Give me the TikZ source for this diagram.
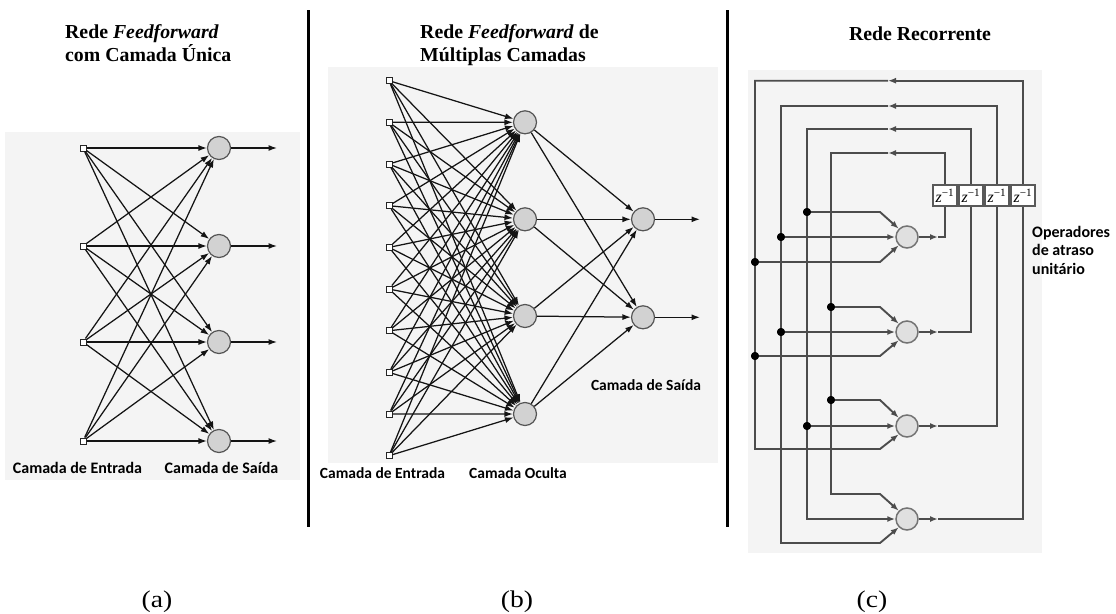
\documentclass[tikz,border=0pt]{standalone}
\usepackage{graphicx}
\usepackage{fontspec}
\setmainfont{Liberation Serif}
\newfontfamily\labelsans{Carlito}
\usetikzlibrary{arrows.meta}
\definecolor{panelbg}{HTML}{F4F4F4}
\definecolor{cellfill}{HTML}{D2D2D2}
\definecolor{cellline}{HTML}{555555}
\definecolor{wiregray}{HTML}{4C4C4C}
\newcommand\delayop{\textit{z}\textsuperscript{−1}}
\newcommand\widecap[1]{\scalebox{1.15}[1]{#1}}
\begin{document}
\begin{tikzpicture}[x=1pt,y=-1pt,
  inp/.style={draw=black!85, fill=white, rectangle, minimum size=6pt, inner sep=0pt, line width=1pt},
  neu/.style={circle, draw=cellline, fill=cellfill, minimum size=23pt, inner sep=0pt, line width=1.2pt},
  rneu/.style={circle, draw=black!55, fill=black!12, minimum size=22pt, inner sep=0pt, line width=1.5pt},
  syn/.style={draw=black!92, line width=1.25pt, -{Latex[length=8.5pt,width=6pt]}},
  wire/.style={draw=wiregray, line width=1.9pt},
  wtip/.style={-{Latex[length=8pt,width=6pt]}},
  jdot/.style={circle, fill=black, minimum size=8pt, inner sep=0pt},
  zbox/.style={draw=black!65, fill=white, line width=1.3pt, minimum width=24pt, minimum height=21pt, inner sep=0pt, font=\fontsize{16}{16}\selectfont},
  ttl/.style={anchor=base west, inner sep=0pt, font=\bfseries\fontsize{19.8}{22}\selectfont},
  lab/.style={anchor=base, inner sep=0pt, font=\labelsans\bfseries\fontsize{15.5}{18}\selectfont},
  subcap/.style={anchor=base, inner sep=0pt, font=\fontsize{24}{24}\selectfont},
  bar/.style={line width=3pt, black}
]
\useasboundingbox (0,0) rectangle (1116,613);
\fill[white] (0,0) rectangle (1116,613);

% panel backgrounds
\fill[panelbg] (5,132) rectangle (300,480);
\fill[panelbg] (328,67) rectangle (718,463);
\fill[panelbg] (748,70) rectangle (1042,553);

% separators
\coordinate (s1t) at (308,10); \coordinate (s1b) at (308,527);
\coordinate (s2t) at (727,10); \coordinate (s2b) at (727,527);
\draw[bar] (s1t) -- (s1b);
\draw[bar] (s2t) -- (s2b);

% titles
\node[ttl] (ta1) at (65,38) {Rede \textit{Feedforward}};
\node[ttl] (ta2) at (65,61) {com Camada Única};
\node[ttl] (tb1) at (420,38) {Rede \textit{Feedforward} de};
\node[ttl] (tb2) at (420,61) {Múltiplas Camadas};
\node[ttl, anchor=base] (tc1) at (920,40.5) {Rede Recorrente};

% ---------- (a) single-layer feedforward ----------
\foreach \i/\y in {1/148,2/246,3/342,4/441} {
  \node[inp] (a-in\i) at (83,\y) {};
  \node[neu] (a-out\i) at (219,\y) {};
  \coordinate (a-end\i) at (277,\y);
}
\foreach \i in {1,...,4} \foreach \j in {1,...,4} \draw[syn] (a-in\i) -- (a-out\j);
\foreach \i in {1,...,4} \draw[syn] (a-out\i) -- (a-end\i);
\node[lab, font=\labelsans\bfseries\fontsize{16}{18}\selectfont] (la1) at (77.5,473) {Camada de Entrada};
\node[lab, font=\labelsans\bfseries\fontsize{16}{18}\selectfont] (la2) at (221.5,473) {Camada de Saída};

% ---------- (b) multilayer feedforward ----------
\foreach \i in {1,...,10} \node[inp] (b-in\i) at (389,{80.7+41.67*(\i-1)}) {};
\foreach \i/\y in {1/122.3,2/219.3,3/316,4/414} \node[neu] (b-hid\i) at (525,\y) {};
\foreach \i/\y in {1/219.3,2/317.3} {
  \node[neu] (b-out\i) at (643,\y) {};
  \coordinate (b-end\i) at (700,\y);
}
\foreach \i in {1,...,10} \foreach \j in {1,...,4} \draw[syn] (b-in\i) -- (b-hid\j);
\foreach \j in {1,...,4} \foreach \k in {1,2} \draw[syn] (b-hid\j) -- (b-out\k);
\foreach \k in {1,2} \draw[syn] (b-out\k) -- (b-end\k);
\node[lab] (lb1) at (382.5,478) {Camada de Entrada};
\node[lab] (lb2) at (518,478) {Camada Oculta};
\node[lab] (lb3) at (646,390) {Camada de Saída};

% ---------- (c) recurrent network ----------
\foreach \i/\y in {1/237,2/332,3/426,4/519} \node[rneu] (c-n\i) at (907,\y) {};
\foreach \i/\x in {1/945,2/971,3/997,4/1023} \node[zbox] (c-z\i) at (\x,195.5) {\delayop};

% neuron outputs into the delay operators
\foreach \i/\y in {1/237,2/332,3/426,4/519} {
  \coordinate (c-o\i) at (938,\y);
  \draw[wire, wtip] (c-n\i) -- (c-o\i);
  \draw[wire] (c-o\i) -| (c-z\i.south);
}

% feedback loops: delay output -> top rail -> left rail -> last input
\coordinate (c-a4) at (888,80.7); \coordinate (c-k4) at (755,449); \coordinate (c-b4) at (880,449);
\coordinate (c-a3) at (888,106);  \coordinate (c-k3) at (781,543); \coordinate (c-b3) at (880,543);
\coordinate (c-a2) at (888,129);  \coordinate (c-k2) at (807,519);
\coordinate (c-a1) at (888,153);  \coordinate (c-k1) at (831,494); \coordinate (c-b1) at (880,494);
\draw[wire, wtip] (c-z4.north) |- (c-a4);
\draw[wire, wtip] (c-a4) -| (c-k4) -- (c-b4) -- (c-n3.225);
\draw[wire, wtip] (c-z3.north) |- (c-a3);
\draw[wire, wtip] (c-a3) -| (c-k3) -- (c-b3) -- (c-n4.225);
\draw[wire, wtip] (c-z2.north) |- (c-a2);
\draw[wire, wtip] (c-a2) -| (c-k2) -- (c-n4.west);
\draw[wire, wtip] (c-z1.north) |- (c-a1);
\draw[wire, wtip] (c-a1) -| (c-k1) -- (c-b1) -- (c-n4.135);

% branch points feeding the other neurons
\node[jdot] (d11) at (807,212) {};
\node[jdot] (d12) at (781,237) {};
\node[jdot] (d13) at (755,262) {};
\node[jdot] (d21) at (831,307) {};
\node[jdot] (d22) at (781,332) {};
\node[jdot] (d23) at (755,356) {};
\node[jdot] (d31) at (831,400) {};
\node[jdot] (d32) at (807,426) {};
\coordinate (e11) at (880,212); \coordinate (e13) at (880,262);
\coordinate (e21) at (880,307); \coordinate (e23) at (880,356);
\coordinate (e31) at (880,400);
\draw[wire, wtip] (d11.center) -- (e11) -- (c-n1.135);
\draw[wire, wtip] (d12.center) -- (c-n1.west);
\draw[wire, wtip] (d13.center) -- (e13) -- (c-n1.225);
\draw[wire, wtip] (d21.center) -- (e21) -- (c-n2.135);
\draw[wire, wtip] (d22.center) -- (c-n2.west);
\draw[wire, wtip] (d23.center) -- (e23) -- (c-n2.225);
\draw[wire, wtip] (d31.center) -- (e31) -- (c-n3.135);
\draw[wire, wtip] (d32.center) -- (c-n3.west);
\foreach \d in {d11,d12,d13,d21,d22,d23,d31,d32} \node[jdot] at (\d) {};

\node[lab, anchor=base west, font=\labelsans\bfseries\fontsize{16}{18}\selectfont] (lc1) at (1032,237) {Operadores};
\node[lab, anchor=base west, font=\labelsans\bfseries\fontsize{16}{18}\selectfont] (lc2) at (1032,255.5) {de atraso};
\node[lab, anchor=base west, font=\labelsans\bfseries\fontsize{16}{18}\selectfont] (lc3) at (1032,274) {unitário};

% sub-figure captions
\node[subcap] (ca) at (157,607) {\widecap{(a)}};
\node[subcap] (cb) at (517,607) {\widecap{(b)}};
\node[subcap] (cc) at (872,607) {\widecap{(c)}};
\end{tikzpicture}
\end{document}
